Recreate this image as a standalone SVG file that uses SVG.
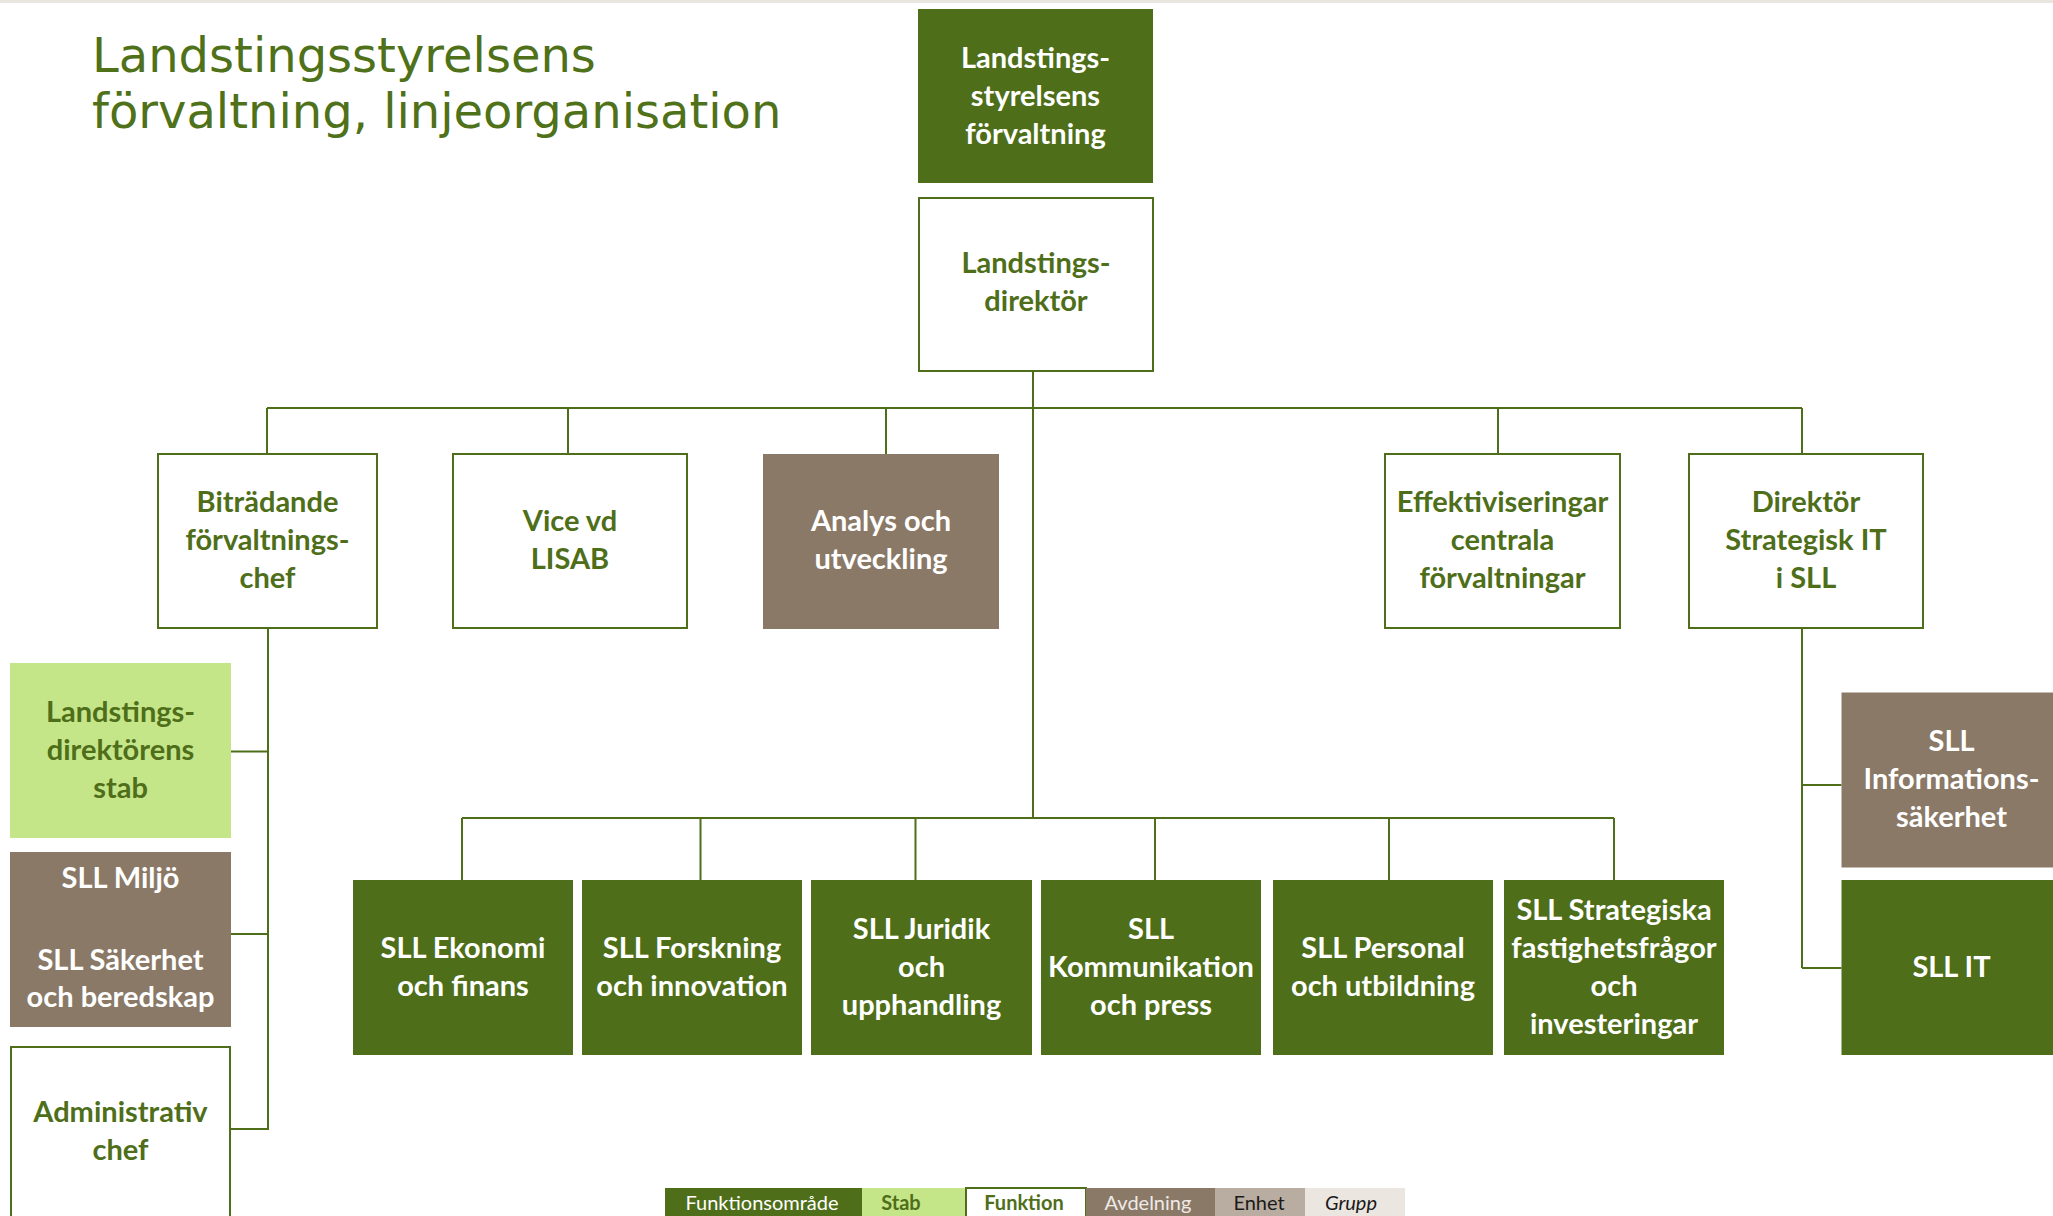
<svg xmlns="http://www.w3.org/2000/svg" width="2053" height="1216" viewBox="0 0 2053 1216">
<style>
.bg{fill:#ffffff}
.band{fill:#e9e5df}
.title{font-family:"DejaVu Sans",sans-serif;font-size:48px;fill:#4f7119}
.fo{fill:#4e6e19}
.fn{fill:#ffffff;stroke:#4e6e19;stroke-width:2}
.av{fill:#8b7967}
.st{fill:#c5e589}
.t{font-family:Lato,"Noto Sans",sans-serif;font-weight:bold;font-size:29px;text-anchor:middle}
.tw{fill:#ffffff}
.tg{fill:#4e6e19}
.c{stroke:#4e6e19;stroke-width:2;fill:none}
.lg{font-family:Lato,"Noto Sans",sans-serif;font-size:20px;text-anchor:middle}
</style>
<rect class="bg" x="0" y="0" width="2053" height="1216"/>
<rect class="band" x="0" y="0" width="2053" height="3"/>
<g id="title">
<text class="title" x="92" y="72">Landstingsstyrelsens</text>
<text class="title" x="92" y="128">förvaltning, linjeorganisation</text>
</g>
<g id="connectors">
<path class="c" d="M1033 371V818"/>
<path class="c" d="M267 408H1802"/>
<path class="c" d="M267 408V454M568 408V454M886 408V454M1498 408V454M1802 408V454"/>
<path class="c" d="M268 628V1130M231 751.5H268M231 934H268M231 1129H268"/>
<path class="c" d="M462 818H1614"/>
<path class="c" d="M462 818V880M700.5 818V880M915.5 818V880M1155 818V880M1389 818V880M1614 818V880"/>
<path class="c" d="M1802 628V968M1802 785H1841.5M1802 968H1841.5"/>
</g>
<g id="n-lsf">
<rect class="fo" x="918" y="9" width="235" height="174"/>
<text class="t tw" x="1035.5" y="68">Landstings-</text>
<text class="t tw" x="1035.5" y="106">styrelsens</text>
<text class="t tw" x="1035.5" y="144">förvaltning</text>
</g>
<g id="n-ld">
<rect class="fn" x="919" y="198" width="234" height="173"/>
<text class="t tg" x="1036" y="273">Landstings-</text>
<text class="t tg" x="1036" y="311">direktör</text>
</g>
<g id="n-bfc">
<rect class="fn" x="158" y="454" width="219" height="174"/>
<text class="t tg" x="267.5" y="512">Biträdande</text>
<text class="t tg" x="267.5" y="550">förvaltnings-</text>
<text class="t tg" x="267.5" y="588">chef</text>
</g>
<g id="n-vvd">
<rect class="fn" x="453" y="454" width="234" height="174"/>
<text class="t tg" x="570" y="531">Vice vd</text>
<text class="t tg" x="570" y="569">LISAB</text>
</g>
<g id="n-au">
<rect class="av" x="763" y="454" width="236" height="175"/>
<text class="t tw" x="881" y="531">Analys och</text>
<text class="t tw" x="881" y="569">utveckling</text>
</g>
<g id="n-ecf">
<rect class="fn" x="1385" y="454" width="235" height="174"/>
<text class="t tg" x="1502.5" y="512">Effektiviseringar</text>
<text class="t tg" x="1502.5" y="550">centrala</text>
<text class="t tg" x="1502.5" y="588">förvaltningar</text>
</g>
<g id="n-dsit">
<rect class="fn" x="1689" y="454" width="234" height="174"/>
<text class="t tg" x="1806" y="512">Direktör</text>
<text class="t tg" x="1806" y="550">Strategisk IT</text>
<text class="t tg" x="1806" y="588">i SLL</text>
</g>
<g id="n-lds">
<rect class="st" x="10" y="663" width="221" height="175"/>
<text class="t tg" x="120.5" y="722">Landstings-</text>
<text class="t tg" x="120.5" y="760">direktörens</text>
<text class="t tg" x="120.5" y="798">stab</text>
</g>
<g id="n-miljo">
<rect class="av" x="10" y="852" width="221" height="175"/>
<text class="t tw" x="120.5" y="888">SLL Miljö</text>
<text class="t tw" x="120.5" y="970">SLL Säkerhet</text>
<text class="t tw" x="120.5" y="1007">och beredskap</text>
</g>
<g id="n-adm">
<rect class="fn" x="11" y="1047" width="219" height="200"/>
<text class="t tg" x="120.5" y="1122">Administrativ</text>
<text class="t tg" x="120.5" y="1160">chef</text>
</g>
<g id="n-eko">
<rect class="fo" x="353" y="880" width="220" height="175"/>
<text class="t tw" x="463" y="958">SLL Ekonomi</text>
<text class="t tw" x="463" y="996">och finans</text>
</g>
<g id="n-fors">
<rect class="fo" x="582" y="880" width="220" height="175"/>
<text class="t tw" x="692" y="958">SLL Forskning</text>
<text class="t tw" x="692" y="996">och innovation</text>
</g>
<g id="n-jur">
<rect class="fo" x="811" y="880" width="221" height="175"/>
<text class="t tw" x="921.5" y="939">SLL Juridik</text>
<text class="t tw" x="921.5" y="977">och</text>
<text class="t tw" x="921.5" y="1015">upphandling</text>
</g>
<g id="n-kom">
<rect class="fo" x="1041" y="880" width="220" height="175"/>
<text class="t tw" x="1151" y="939">SLL</text>
<text class="t tw" x="1151" y="977">Kommunikation</text>
<text class="t tw" x="1151" y="1015">och press</text>
</g>
<g id="n-pers">
<rect class="fo" x="1273" y="880" width="220" height="175"/>
<text class="t tw" x="1383" y="958">SLL Personal</text>
<text class="t tw" x="1383" y="996">och utbildning</text>
</g>
<g id="n-strat">
<rect class="fo" x="1504" y="880" width="220" height="175"/>
<text class="t tw" x="1614" y="920">SLL Strategiska</text>
<text class="t tw" x="1614" y="958">fastighetsfrågor</text>
<text class="t tw" x="1614" y="996">och</text>
<text class="t tw" x="1614" y="1034">investeringar</text>
</g>
<g id="n-info">
<rect class="av" x="1841.5" y="692.5" width="220" height="175"/>
<text class="t tw" x="1951.5" y="751">SLL</text>
<text class="t tw" x="1951.5" y="789">Informations-</text>
<text class="t tw" x="1951.5" y="827">säkerhet</text>
</g>
<g id="n-it">
<rect class="fo" x="1841.5" y="880" width="220" height="175"/>
<text class="t tw" x="1951.5" y="977">SLL IT</text>
</g>
<g id="legend">
<rect x="665" y="1188" width="197" height="30" fill="#4e6e19"/>
<rect x="862" y="1188" width="104" height="30" fill="#c5e589"/>
<rect x="966" y="1188" width="120" height="30" fill="#ffffff" stroke="#4e6e19" stroke-width="2"/>
<rect x="1086" y="1188" width="129" height="30" fill="#8b7967"/>
<rect x="1215" y="1188" width="90" height="30" fill="#b9ada1"/>
<rect x="1305" y="1188" width="100" height="30" fill="#ebe6e0"/>
<text class="lg" x="762" y="1210" fill="#ffffff">Funktionsområde</text>
<text class="lg" x="901" y="1210" fill="#4e6e19" font-weight="bold">Stab</text>
<text class="lg" x="1024" y="1210" fill="#4e6e19" font-weight="bold">Funktion</text>
<text class="lg" x="1148" y="1210" fill="#eeeae6">Avdelning</text>
<text class="lg" x="1259" y="1210" fill="#1a1a1a">Enhet</text>
<text class="lg" x="1351" y="1210" fill="#1a1a1a" font-style="italic">Grupp</text>
</g>
</svg>
